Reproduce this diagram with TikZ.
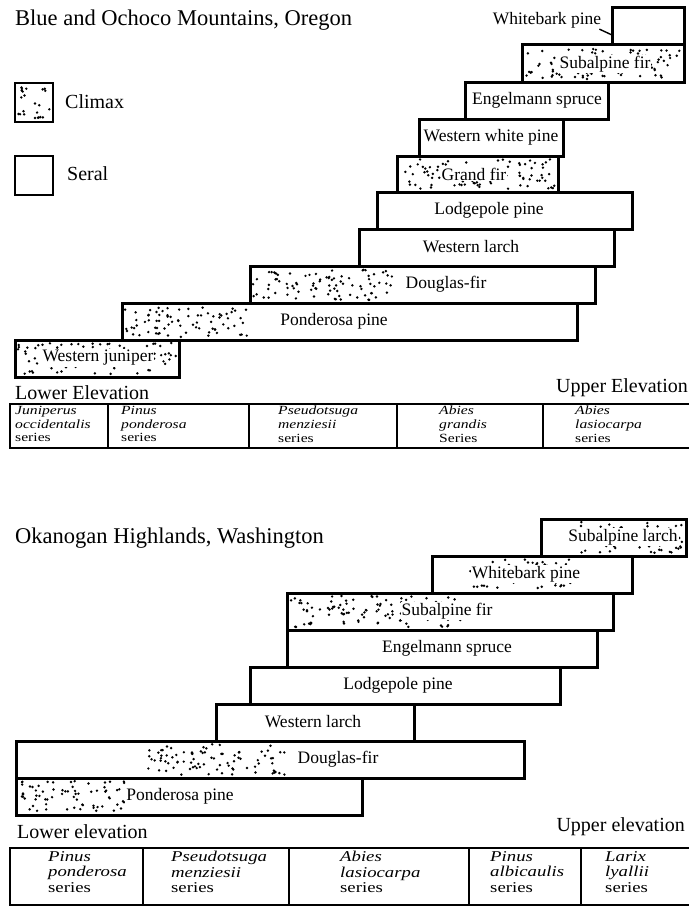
\documentclass[tikz,border=0pt]{standalone}
\usepackage{fontspec}
\setmainfont{Liberation Serif}
\usetikzlibrary{positioning}

% random stipple for climax parts: x1,y1,x2,y2
\newcommand{\stipple}[4]{%
  \pgfmathsetmacro{\ndots}{int(((#3)-(#1))*((#4)-(#2))/62)}
  \foreach \k in {1,...,\ndots}{
    \fill ({#1+3+rnd*((#3)-(#1)-6)},{#2+3+rnd*((#4)-(#2)-6)}) circle (1.35);
  }}
% one series cell, a little wider than the font
\newcommand{\srs}[3]{\scalebox{1.25}[1]{#1}\\\scalebox{1.25}[1]{#2}\\\scalebox{1.25}[1]{\upshape #3}}

\tikzset{
  bar/.style={line width=3pt},
  lab/.style={font=\fontsize{17.5}{17.5}\selectfont, inner sep=1pt},
  dlab/.style={lab, fill=white},
  title/.style={anchor=west, inner sep=0pt, font=\fontsize{22.5}{22.5}\selectfont},
  legtext/.style={anchor=west, inner sep=0pt, font=\fontsize{20}{20}\selectfont},
  elev/.style={inner sep=0pt, font=\fontsize{20}{20}\selectfont},
  tab/.style={line width=2.4pt},
  sers/.style={anchor=north west, align=left, inner sep=0pt,
    font=\fontsize{12.5}{13.6}\selectfont\itshape},
  sersb/.style={sers, font=\fontsize{15}{15.5}\selectfont\itshape}
}

\begin{document}
\begin{tikzpicture}[x=1pt,y=-1pt]
\useasboundingbox (0,0) rectangle (688,907);
\pgfmathsetseed{17}

% Blue and Ochoco Mountains
\node [title] (ttop) at (15,20) {Blue and Ochoco Mountains, Oregon};

% legend
\stipple{15}{83}{53}{122}
\draw [bar,line width=2.6pt] (15,83) rectangle (53,122);
\node [legtext] (climax) at (65,102) {Climax};
\draw [bar,line width=2.6pt] (15,156) rectangle (53,195);
\node [legtext] (seral) at (67,174) {Seral};

% stipple first
\stipple{522}{45}{684}{82}
\stipple{397}{156}{558}{192}
\stipple{250}{266}{395}{303}
\stipple{122}{303}{250}{340}
\stipple{15}{340}{179}{377}

% bars
\draw [bar] (612,8) rectangle (684,45);
\draw [bar] (522,45) rectangle (684,82);
\draw [bar] (465,82) rectangle (608,119);
\draw [bar] (419,119) rectangle (563,156);
\draw [bar] (397,156) rectangle (558,192);
\draw [bar] (377,192) rectangle (632,229);
\draw [bar] (359,229) rectangle (614,266);
\draw [bar] (250,266) rectangle (595,303);
\draw [bar] (122,303) rectangle (577,340);
\draw [bar] (15,340) rectangle (179,377);

% labels
\node [lab] (wbp) at (547,20) {Whitebark pine};
\coordinate (wbpend) at (612,35);
\draw [line width=1.4pt] ([xshift=-3pt]wbp.south east) -- (wbpend);
\node [dlab] (saf) at (605,64) {Subalpine fir};
\node [lab] (es) at (537,100) {Engelmann spruce};
\node [lab] (wwp) at (491,137) {Western white pine};
\node [dlab] (gf) at (474,174) {Grand fir};
\node [lab] (lp) at (489,210) {Lodgepole pine};
\node [lab] (wl) at (471,247) {Western larch};
\node [dlab] (df) at (446,284) {Douglas-fir};
\node [dlab] (pp) at (334,321) {Ponderosa pine};
\node [dlab] (wj) at (98,358) {Western juniper};

\node [elev,anchor=west] (low) at (15,393) {Lower Elevation};
\node [elev,anchor=east] (up) at (688,388) {Upper Elevation};

% series table
\draw [tab] (10,404) rectangle (690,448);
\foreach \x in {108,249,397,543}
  \draw [tab] (\x,404) -- (\x,448);
\node [sers] (s1) at (15,406) {\srs{Juniperus}{occidentalis}{series}};
\node [sers] (s2) at (121,406) {\srs{Pinus}{ponderosa}{series}};
\node [sers] (s3) at (278,406) {\srs{Pseudotsuga}{menziesii}{series}};
\node [sers] (s4) at (439,406) {\srs{Abies}{grandis}{Series}};
\node [sers] (s5) at (575,406) {\srs{Abies}{lasiocarpa}{series}};

% Okanogan Highlands
\node [title] (tbot) at (15,538) {Okanogan Highlands, Washington};

\stipple{577}{519}{686}{556}
\stipple{466}{556}{580}{593}
\stipple{287}{593}{465}{630}
\stipple{145}{741}{289}{778}
\stipple{16}{778}{132}{815}

\draw [bar] (541,519) rectangle (686,556);
\draw [bar] (432,556) rectangle (632,593);
\draw [bar] (287,593) rectangle (613,630);
\draw [bar] (287,630) rectangle (597,667);
\draw [bar] (250,667) rectangle (560,704);
\draw [bar] (216,704) rectangle (414,741);
\draw [bar] (16,741) rectangle (524,778);
\draw [bar] (16,778) rectangle (362,815);

\node [dlab] (sal) at (623,537) {Subalpine larch};
\node [dlab] (wbp2) at (526,574) {Whitebark pine};
\node [dlab] (saf2) at (447,611) {Subalpine fir};
\node [lab] (es2) at (447,648) {Engelmann spruce};
\node [lab] (lp2) at (398,685) {Lodgepole pine};
\node [lab] (wl2) at (313,722) {Western larch};
\node [dlab] (df2) at (338,759) {Douglas-fir};
\node [dlab] (pp2) at (180,796) {Ponderosa pine};

\node [elev,anchor=west] (low2) at (17,832) {Lower elevation};
\node [elev,anchor=east] (up2) at (685,827) {Upper elevation};

\draw [tab] (10,848) rectangle (690,905);
\foreach \x in {143,289,469,581}
  \draw [tab] (\x,848) -- (\x,905);
\node [sersb] (b1) at (48,851) {\srs{Pinus}{ponderosa}{series}};
\node [sersb] (b2) at (171,851) {\srs{Pseudotsuga}{menziesii}{series}};
\node [sersb] (b3) at (340,851) {\srs{Abies}{lasiocarpa}{series}};
\node [sersb] (b4) at (490,851) {\srs{Pinus}{albicaulis}{series}};
\node [sersb] (b5) at (605,851) {\srs{Larix}{lyallii}{series}};
\end{tikzpicture}
\end{document}
